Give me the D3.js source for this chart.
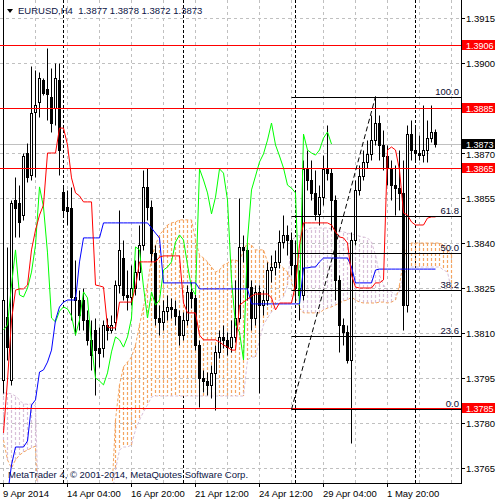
<!DOCTYPE html>
<html>
<head>
<meta charset="utf-8">
<script src="https://cdn.jsdelivr.net/npm/d3@7"></script>
<style>
body { margin: 0; background: #fff; }
text { font-family: "Liberation Sans", Arial, sans-serif; font-size: 9.5px; }
</style>
</head>
<body>
<div id="chart-area"></div>
<script>
// EURUSD H4 with Ichimoku + Fibonacci retracement

// candles, bar 0 .. 108
const barOpen = [
  1.37943, 1.38153, 1.37943, 1.38543, 1.38533, 1.38493, 1.38700, 1.38627, 1.38837, 1.38870,
  1.38943, 1.38913, 1.38887, 1.38850, 1.38943, 1.38570, 1.38520, 1.38517, 1.38220, 1.38210,
  1.38210, 1.38143, 1.38077, 1.38110, 1.38050, 1.38050, 1.38127, 1.38110, 1.38137, 1.38260,
  1.38350, 1.38227, 1.38220, 1.38250, 1.38303, 1.38393, 1.38587, 1.38520, 1.38367, 1.38150,
  1.38137, 1.38173, 1.38187, 1.38180, 1.38157, 1.38093, 1.38143, 1.38237, 1.38217, 1.38060,
  1.37950, 1.37940, 1.37927, 1.37967, 1.38037, 1.38087, 1.38077, 1.38053, 1.38087, 1.38150,
  1.38387, 1.38377, 1.38253, 1.38150, 1.38237, 1.38193, 1.38210, 1.38310, 1.38320, 1.38337,
  1.38403, 1.38427, 1.38410, 1.38327, 1.38250, 1.38227, 1.38647, 1.38610, 1.38567, 1.38497,
  1.38553, 1.38647, 1.38633, 1.38543, 1.38277, 1.38127, 1.38103, 1.38010, 1.38410, 1.38577,
  1.38623, 1.38670, 1.38697, 1.38743, 1.38800, 1.38727, 1.38690, 1.38650, 1.38593, 1.38583,
  1.38567, 1.38193, 1.38763, 1.38710, 1.38700, 1.38693, 1.38710, 1.38750, 1.38770
]
const barHigh = [
  1.39250, 1.38387, 1.38543, 1.38620, 1.38593, 1.38700, 1.38733, 1.38990, 1.38977, 1.38970,
  1.38950, 1.39050, 1.38983, 1.39000, 1.39000, 1.38593, 1.38577, 1.38587, 1.38343, 1.38243,
  1.38250, 1.38177, 1.38143, 1.38150, 1.38120, 1.38143, 1.38150, 1.38160, 1.38277, 1.38510,
  1.38410, 1.38310, 1.38327, 1.38343, 1.38460, 1.38643, 1.38650, 1.38543, 1.38393, 1.38193,
  1.38210, 1.38227, 1.38217, 1.38210, 1.38177, 1.38170, 1.38260, 1.38270, 1.38237, 1.38077,
  1.37977, 1.37970, 1.37993, 1.38060, 1.38110, 1.38127, 1.38103, 1.38143, 1.38277, 1.38550,
  1.38427, 1.38393, 1.38277, 1.38260, 1.38260, 1.38243, 1.38337, 1.38360, 1.38377, 1.38443,
  1.38493, 1.38460, 1.38437, 1.38410, 1.38310, 1.38677, 1.38710, 1.38677, 1.38643, 1.38593,
  1.38693, 1.38793, 1.38650, 1.38560, 1.38293, 1.38150, 1.38127, 1.38437, 1.38610, 1.38660,
  1.38710, 1.38743, 1.38827, 1.38890, 1.38827, 1.38777, 1.38727, 1.38677, 1.38660, 1.38710,
  1.38677, 1.38793, 1.38810, 1.38793, 1.38760, 1.38860, 1.38810, 1.38860, 1.38780
]
const barLow = [
  1.37900, 1.38010, 1.37927, 1.38420, 1.38420, 1.38477, 1.38603, 1.38610, 1.38620, 1.38820,
  1.38893, 1.38810, 1.38770, 1.38793, 1.38627, 1.38487, 1.38460, 1.38143, 1.38093, 1.38110,
  1.38110, 1.38060, 1.37977, 1.37893, 1.37987, 1.38020, 1.38077, 1.38100, 1.38110, 1.38233,
  1.38210, 1.38177, 1.38193, 1.38227, 1.38277, 1.38377, 1.38477, 1.38337, 1.38127, 1.38093,
  1.38110, 1.38143, 1.38150, 1.38127, 1.38060, 1.38077, 1.38127, 1.38183, 1.38043, 1.37853,
  1.37903, 1.37893, 1.37883, 1.37843, 1.38017, 1.38050, 1.38027, 1.38037, 1.38070, 1.38137,
  1.38337, 1.38210, 1.38110, 1.38127, 1.37900, 1.38160, 1.38193, 1.38270, 1.38293, 1.38317,
  1.38383, 1.38360, 1.38293, 1.38210, 1.38143, 1.38210, 1.38577, 1.38543, 1.38477, 1.38460,
  1.38527, 1.38610, 1.38443, 1.38210, 1.38037, 1.38060, 1.38000, 1.37733, 1.38393, 1.38560,
  1.38610, 1.38650, 1.38677, 1.38727, 1.38677, 1.38643, 1.38593, 1.38543, 1.38493, 1.38510,
  1.38110, 1.38170, 1.38677, 1.38670, 1.38677, 1.38670, 1.38670, 1.38737, 1.38720
]
const barClose = [
  1.38210, 1.38053, 1.38533, 1.38517, 1.38470, 1.38690, 1.38620, 1.38833, 1.38860, 1.38950,
  1.38900, 1.38897, 1.38800, 1.38950, 1.38710, 1.38510, 1.38507, 1.38220, 1.38210, 1.38160,
  1.38143, 1.38077, 1.38027, 1.38043, 1.38033, 1.38127, 1.38110, 1.38127, 1.38260, 1.38377,
  1.38227, 1.38220, 1.38250, 1.38303, 1.38393, 1.38587, 1.38520, 1.38367, 1.38150, 1.38137,
  1.38173, 1.38187, 1.38180, 1.38157, 1.38093, 1.38143, 1.38237, 1.38217, 1.38060, 1.37950,
  1.37940, 1.37927, 1.37967, 1.38037, 1.38087, 1.38077, 1.38053, 1.38087, 1.38150, 1.38387,
  1.38377, 1.38253, 1.38150, 1.38237, 1.38193, 1.38210, 1.38310, 1.38320, 1.38337, 1.38403,
  1.38427, 1.38410, 1.38327, 1.38250, 1.38227, 1.38647, 1.38610, 1.38567, 1.38497, 1.38553,
  1.38647, 1.38633, 1.38543, 1.38277, 1.38127, 1.38103, 1.38010, 1.38410, 1.38577, 1.38623,
  1.38670, 1.38697, 1.38743, 1.38800, 1.38727, 1.38690, 1.38650, 1.38593, 1.38583, 1.38567,
  1.38193, 1.38763, 1.38710, 1.38700, 1.38693, 1.38710, 1.38750, 1.38770, 1.38730
]

// Ichimoku lines
const tenkan = [
  1.37767, 1.37943, 1.38143, 1.38243, 1.38247, 1.38247, 1.38260, 1.38377, 1.38443, 1.38493,
  1.38527, 1.38700, 1.38700, 1.38700, 1.38783, 1.38783, 1.38727, 1.38617, 1.38567, 1.38557,
  1.38537, 1.38537, 1.38537, 1.38260, 1.38257, 1.38253, 1.38120, 1.38117, 1.38117, 1.38203,
  1.38203, 1.38203, 1.38203, 1.38253, 1.38337, 1.38337, 1.38337, 1.38337, 1.38337, 1.38353,
  1.38357, 1.38357, 1.38357, 1.38357, 1.38357, 1.38200, 1.38167, 1.38167, 1.38167, 1.38093,
  1.38077, 1.38077, 1.38077, 1.38077, 1.38070, 1.38060, 1.38053, 1.38043, 1.38043, 1.38193,
  1.38203, 1.38213, 1.38223, 1.38230, 1.38230, 1.38230, 1.38230, 1.38217, 1.38177, 1.38200,
  1.38200, 1.38200, 1.38200, 1.38260, 1.38393, 1.38467, 1.38467, 1.38467, 1.38467, 1.38467,
  1.38467, 1.38467, 1.38460, 1.38437, 1.38420, 1.38417, 1.38400, 1.38293, 1.38253, 1.38250,
  1.38250, 1.38250, 1.38250, 1.38267, 1.38267, 1.38277, 1.38710, 1.38720, 1.38710, 1.38643,
  1.38500, 1.38493, 1.38470, 1.38460, 1.38460, 1.38460, 1.38483, 1.38487, 1.38487
]
const kijun = [
  1.37543, 1.37560, 1.37660, 1.37720, 1.37720, 1.37720, 1.37740, 1.37860, 1.37877, 1.37970,
  1.37977, 1.38003, 1.38043, 1.38143, 1.38187, 1.38203, 1.38210, 1.38210, 1.38210, 1.38337,
  1.38417, 1.38417, 1.38417, 1.38417, 1.38417, 1.38467, 1.38467, 1.38467, 1.38467, 1.38467,
  1.38467, 1.38467, 1.38467, 1.38467, 1.38467, 1.38467, 1.38467, 1.38450, 1.38433, 1.38417,
  1.38267, 1.38267, 1.38267, 1.38267, 1.38267, 1.38267, 1.38267, 1.38267, 1.38267, 1.38247,
  1.38247, 1.38247, 1.38247, 1.38247, 1.38247, 1.38247, 1.38247, 1.38247, 1.38247, 1.38247,
  1.38247, 1.38247, 1.38197, 1.38197, 1.38197, 1.38197, 1.38197, 1.38197, 1.38197, 1.38197,
  1.38197, 1.38197, 1.38197, 1.38197, 1.38197, 1.38317, 1.38317, 1.38320, 1.38320, 1.38337,
  1.38350, 1.38350, 1.38350, 1.38350, 1.38350, 1.38350, 1.38350, 1.38320, 1.38267, 1.38267,
  1.38267, 1.38267, 1.38267, 1.38310, 1.38313, 1.38313, 1.38313, 1.38313, 1.38313, 1.38313,
  1.38313, 1.38313, 1.38313, 1.38313, 1.38313, 1.38313, 1.38313, 1.38313, 1.38313
]
// cloud spans, bar 0 .. 112 (runs past the last candle, cut by the chart edge)
const spanA = [
  1.37743, 1.37677, 1.37650, 1.37677, 1.37693, 1.37703, 1.37710, 1.37717, 1.37723, 1.37400,
  1.37400, 1.37400, 1.37400, 1.37400, 1.37400, 1.37400, 1.37400, 1.37400, 1.37400, 1.37400,
  1.37400, 1.37400, 1.37400, 1.37400, 1.37400, 1.37400, 1.37400, 1.37543, 1.37810, 1.37927,
  1.37987, 1.38003, 1.38020, 1.38060, 1.38127, 1.38187, 1.38260, 1.38350, 1.38393, 1.38427,
  1.38443, 1.38460, 1.38467, 1.38470, 1.38477, 1.38477, 1.38477, 1.38477, 1.38410, 1.38360,
  1.38350, 1.38337, 1.38320, 1.38303, 1.38310, 1.38327, 1.38333, 1.38343, 1.38343, 1.38337,
  1.38377, 1.38400, 1.38393, 1.38377, 1.38377, 1.38377, 1.38337, 1.38327, 1.38337, 1.38327,
  1.38317, 1.38303, 1.38277, 1.38217, 1.38183, 1.38167, 1.38167, 1.38167, 1.38167, 1.38167,
  1.38177, 1.38183, 1.38187, 1.38193, 1.38200, 1.38207, 1.38210, 1.38220, 1.38210, 1.38203,
  1.38200, 1.38200, 1.38200, 1.38200, 1.38203, 1.38203, 1.38200, 1.38203, 1.38210, 1.38260,
  1.38343, 1.38393, 1.38400, 1.38400, 1.38400, 1.38400, 1.38400, 1.38400, 1.38400, 1.38400,
  1.38393, 1.38377, 1.38360
]
const spanB = [
  1.37900, 1.37900, 1.37897, 1.37890, 1.37877, 1.37863, 1.37863, 1.37863, 1.37857, 1.37400,
  1.37400, 1.37400, 1.37400, 1.37400, 1.37400, 1.37400, 1.37400, 1.37400, 1.37400, 1.37400,
  1.37400, 1.37400, 1.37400, 1.37400, 1.37400, 1.37400, 1.37400, 1.37543, 1.37643, 1.37710,
  1.37720, 1.37720, 1.37727, 1.37777, 1.37810, 1.37837, 1.37860, 1.37887, 1.37890, 1.37890,
  1.37890, 1.37890, 1.37890, 1.37890, 1.37890, 1.37890, 1.37890, 1.37890, 1.37890, 1.37890,
  1.37890, 1.37890, 1.37890, 1.37890, 1.37890, 1.37890, 1.37890, 1.37890, 1.37890, 1.37890,
  1.37890, 1.38010, 1.38020, 1.38020, 1.38077, 1.38127, 1.38150, 1.38170, 1.38193, 1.38210,
  1.38220, 1.38260, 1.38410, 1.38420, 1.38427, 1.38437, 1.38447, 1.38450, 1.38450, 1.38450,
  1.38450, 1.38450, 1.38447, 1.38443, 1.38440, 1.38437, 1.38433, 1.38430, 1.38427, 1.38423,
  1.38420, 1.38417, 1.38403, 1.38360, 1.38293, 1.38260, 1.38243, 1.38237, 1.38227, 1.38237,
  1.38293, 1.38317, 1.38320, 1.38320, 1.38320, 1.38320, 1.38320, 1.38320, 1.38320, 1.38320,
  1.38310, 1.38303, 1.38243
]
const chikouShift = 26

// axes
const priceTicks = [1.3915, 1.3900, 1.3885, 1.3870, 1.3855, 1.3840, 1.3825, 1.3810, 1.3795, 1.3780, 1.3765]
const timeTickBars = [0, 16, 32, 48, 64, 80, 96]
const timeTickLabels = ["9 Apr 2014", "14 Apr 04:00", "16 Apr 20:00", "21 Apr 12:00", "24 Apr 12:00", "29 Apr 04:00", "1 May 20:00"]
const gridBars = [0, 8, 16, 24, 32, 40, 48, 56, 64, 72, 80, 88, 96, 104, 112]
const weekStartBars = [15, 45, 73, 103]

// horizontal lines and quote
const levelLines = [1.3906, 1.3885, 1.3865, 1.3785]
const bid = 1.3873
const lastQuote = ["1.3877", "1.3878", "1.3872", "1.3873"]

// fibonacci retracement
const fibLevels = [0, 23.6, 38.2, 50, 61.8, 100]
const fibLow = 1.37845, fibLowBar = 72
const fibHigh = 1.38888, fibHighBar = 93

const PLOT_W = 461, PLOT_H = 483

const svg = d3.select("#chart-area").append("svg")
    .attr("width", 500)
    .attr("height", 500)
    .style("display", "block")

svg.append("rect").attr("width", 500).attr("height", 500).attr("fill", "#fff")

svg.append("clipPath").attr("id", "plot")
  .append("rect").attr("width", PLOT_W).attr("height", PLOT_H)

// scales
const x = d3.scaleLinear().domain([0, 114.5]).range([3, 461])
const y = d3.scaleLinear().domain([1.3760, 1.3921]).range([483, 0])
const px = i => Math.round(x(i)) + 0.5
const py = p => Math.round(y(p)) + 0.5

const g = svg.append("g").attr("clip-path", "url(#plot)")

// grid
g.append("g").selectAll("line").data(priceTicks).join("line")
    .attr("x1", 0).attr("x2", PLOT_W)
    .attr("y1", d => py(d)).attr("y2", d => py(d))
    .attr("stroke", "#c0c0c0").attr("stroke-dasharray", "3,3")
g.append("g").selectAll("line").data(gridBars).join("line")
    .attr("x1", d => px(d)).attr("x2", d => px(d))
    .attr("y1", 0).attr("y2", PLOT_H)
    .attr("stroke", "#c0c0c0").attr("stroke-dasharray", "3,3")

// week separators
g.append("g").selectAll("line").data(weekStartBars).join("line")
    .attr("x1", d => px(d)).attr("x2", d => px(d))
    .attr("y1", 0).attr("y2", PLOT_H)
    .attr("stroke", "#000").attr("stroke-dasharray", "3,2")

// bid line
g.append("line")
    .attr("x1", 0).attr("x2", PLOT_W)
    .attr("y1", py(bid)).attr("y2", py(bid))
    .attr("stroke", "#c0c0c0")

// cloud hatch (behind the candles)
const SANDY = "#f4a460", THISTLE = "#d8bfd8"
g.append("g").selectAll("line").data(spanA).join("line")
    .attr("x1", (d, i) => px(i)).attr("x2", (d, i) => px(i))
    .attr("y1", d => Math.round(y(d))).attr("y2", (d, i) => Math.round(y(spanB[i])))
    .attr("stroke", (d, i) => d >= spanB[i] ? SANDY : THISTLE)
    .attr("stroke-width", 1.2)
    .attr("stroke-dasharray", "3,2")

const line = d3.line().x((d, i) => px(i)).y(d => y(d))
g.append("path").attr("d", line(spanA))
    .attr("fill", "none").attr("stroke", SANDY).attr("stroke-dasharray", "3,2")
g.append("path").attr("d", line(spanB))
    .attr("fill", "none").attr("stroke", THISTLE).attr("stroke-dasharray", "3,2")

// candles
const candles = g.append("g").selectAll("g").data(barOpen).join("g")
candles.append("line")
    .attr("x1", (d, i) => px(i)).attr("x2", (d, i) => px(i))
    .attr("y1", (d, i) => py(barHigh[i])).attr("y2", (d, i) => py(barLow[i]))
    .attr("stroke", "#000")
candles.append("rect")
    .attr("x", (d, i) => px(i) - 1)
    .attr("width", 2)
    .attr("y", (d, i) => py(Math.max(d, barClose[i])))
    .attr("height", (d, i) => Math.max(0, py(Math.min(d, barClose[i])) - py(Math.max(d, barClose[i]))))
    .attr("fill", (d, i) => barClose[i] >= d ? "#fff" : "#000")
    .attr("stroke", "#000")

// chikou: closes drawn 26 bars back
const chikou = barClose.map((c, i) => [i - chikouShift, c]).filter(d => d[0] >= 0)
g.append("path")
    .attr("d", d3.line().x(d => px(d[0])).y(d => y(d[1]))(chikou))
    .attr("fill", "none").attr("stroke", "#00ff00")

g.append("path").attr("d", line(kijun))
    .attr("fill", "none").attr("stroke", "#0000ff")
g.append("path").attr("d", line(tenkan))
    .attr("fill", "none").attr("stroke", "#ff0000")

// level lines
g.append("g").selectAll("line").data(levelLines).join("line")
    .attr("x1", 0).attr("x2", PLOT_W)
    .attr("y1", d => py(d)).attr("y2", d => py(d))
    .attr("stroke", "#ff0000")

// fibonacci
const fibPrice = lvl => fibLow + (fibHigh - fibLow) * lvl / 100
const fib = g.append("g")
fib.selectAll("line").data(fibLevels).join("line")
    .attr("x1", px(fibLowBar)).attr("x2", PLOT_W)
    .attr("y1", d => py(fibPrice(d))).attr("y2", d => py(fibPrice(d)))
    .attr("stroke", "#000")
fib.selectAll("text").data(fibLevels).join("text")
    .attr("x", PLOT_W - 2)
    .attr("y", d => py(fibPrice(d)) - 2.5)
    .attr("text-anchor", "end")
    .attr("fill", "#0a0a30")
    .text(d => d.toFixed(1))
fib.append("line")
    .attr("x1", px(fibLowBar)).attr("y1", y(fibLow))
    .attr("x2", px(fibHighBar)).attr("y2", y(fibHigh))
    .attr("stroke", "#000").attr("stroke-dasharray", "5,3")

// axes (a tick label sitting under a price tag is hidden by it)
const fmt = d3.format(".4f")
const yAxisCall = d3.axisRight(y)
    .tickValues(priceTicks)
    .tickSize(4).tickSizeOuter(0).tickPadding(1)
    .tickFormat(d => levelLines.includes(d) ? "" : fmt(d))
const yAxis = svg.append("g")
    .attr("transform", `translate(${PLOT_W}, 0)`)
    .call(yAxisCall)
yAxis.select(".domain").remove()
yAxis.selectAll("text").attr("fill", "#000").attr("font-size", null)
    .attr("font-family", null)
yAxis.selectAll(".tick").filter(d => d === 1.3870).select("text").attr("dy", "0.45em")

const xAxisCall = d3.axisBottom(x)
    .tickValues(timeTickBars)
    .tickSize(4).tickSizeOuter(0).tickPadding(3)
    .tickFormat((d, i) => timeTickLabels[i])
const xAxis = svg.append("g")
    .attr("transform", `translate(0, ${PLOT_H})`)
    .call(xAxisCall)
xAxis.select(".domain").remove()
xAxis.selectAll("text").attr("text-anchor", "start").attr("x", -0.5)
    .attr("fill", "#000").attr("font-size", null).attr("font-family", null)

// frame
svg.append("line").attr("x1", PLOT_W + 0.5).attr("x2", PLOT_W + 0.5)
    .attr("y1", 0).attr("y2", PLOT_H + 1).attr("stroke", "#000")
svg.append("line").attr("x1", 0).attr("x2", PLOT_W + 1)
    .attr("y1", PLOT_H + 0.5).attr("y2", PLOT_H + 0.5).attr("stroke", "#000")

// price labels on the right
const tags = levelLines.map(p => ({ p, fill: "#ff0000" })).concat([{ p: bid, fill: "#000" }])
const tagG = svg.append("g").selectAll("g").data(tags).join("g")
tagG.append("rect")
    .attr("x", PLOT_W + 1).attr("y", d => Math.round(y(d.p)) - 5)
    .attr("width", 33).attr("height", 10)
    .attr("fill", d => d.fill)
tagG.append("text")
    .attr("x", PLOT_W + 5).attr("y", d => Math.round(y(d.p)) + 3.5)
    .attr("fill", "#fff")
    .style("font-size", "9px")
    .text(d => d.p.toFixed(4))

// title and copyright
svg.append("path").attr("d", "M7,9 L13,9 L10,13 Z").attr("fill", "#000")
svg.append("text")
    .attr("x", 18).attr("y", 14)
    .attr("fill", "#0c1445")
    .style("white-space", "pre")
    .text("EURUSD,H4  " + lastQuote.join(" "))
svg.append("text")
    .attr("x", 8).attr("y", 478)
    .attr("fill", "#0c1445")
    .text("MetaTrader 4, \u00a9 2001-2014, MetaQuotes Software Corp.")
</script>
</body>
</html>
